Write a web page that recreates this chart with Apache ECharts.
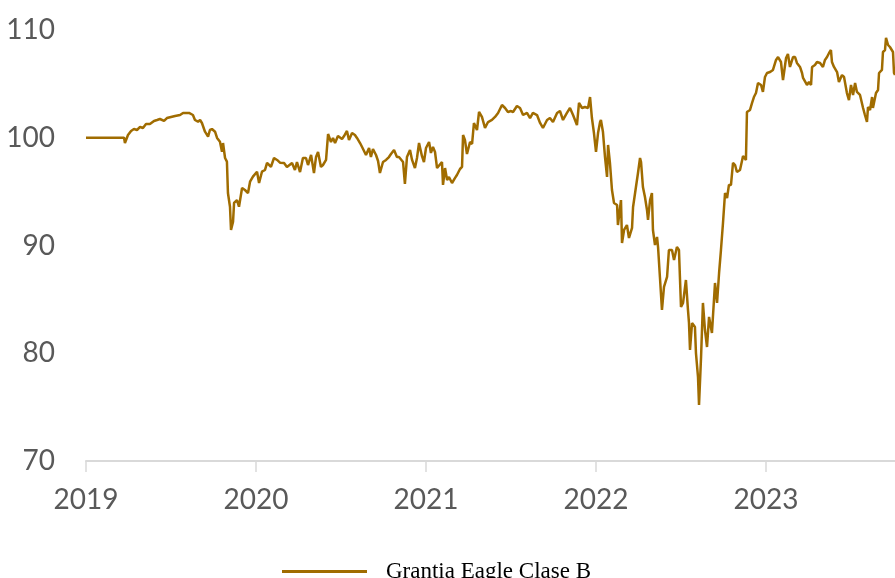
<!DOCTYPE html>
<html>
<head>
<meta charset="utf-8">
<script src="https://cdn.jsdelivr.net/npm/echarts@6/dist/echarts.min.js"></script>
<style>
html,body{margin:0;padding:0;background:#fff;}
#chart{width:895px;height:578px;}
</style>
</head>
<body>
<div id="chart"></div>
<script>
const seriesName = 'Grantia Eagle Clase B';
const yearTicks = [2019, 2020, 2021, 2022, 2023];
const valueTicks = [70, 80, 90, 100, 110];

// decimal-year dates
const dates = [
2019.000,2019.224,2019.229,2019.247,2019.265,2019.282,2019.300,2019.318,2019.335,2019.353,
2019.376,2019.400,2019.418,2019.435,2019.459,2019.476,2019.500,2019.524,2019.553,2019.571,
2019.582,2019.606,2019.629,2019.641,2019.659,2019.671,2019.682,2019.700,2019.718,2019.729,
2019.741,2019.759,2019.771,2019.788,2019.800,2019.806,2019.818,2019.829,2019.835,2019.847,
2019.853,2019.865,2019.871,2019.888,2019.900,2019.918,2019.935,2019.953,2019.965,2019.982,
2020.006,2020.018,2020.035,2020.053,2020.065,2020.088,2020.106,2020.124,2020.141,2020.165,
2020.182,2020.212,2020.229,2020.241,2020.259,2020.276,2020.294,2020.306,2020.324,2020.341,
2020.353,2020.365,2020.382,2020.394,2020.412,2020.424,2020.441,2020.453,2020.465,2020.482,
2020.506,2020.518,2020.535,2020.547,2020.565,2020.582,2020.594,2020.612,2020.624,2020.635,
2020.647,2020.665,2020.676,2020.688,2020.706,2020.718,2020.729,2020.747,2020.765,2020.782,
2020.794,2020.812,2020.829,2020.841,2020.865,2020.876,2020.888,2020.906,2020.918,2020.935,
2020.947,2020.959,2020.976,2020.988,2021.000,2021.018,2021.029,2021.041,2021.053,2021.065,
2021.076,2021.094,2021.100,2021.112,2021.124,2021.135,2021.153,2021.171,2021.182,2021.200,
2021.212,2021.218,2021.229,2021.241,2021.259,2021.271,2021.282,2021.300,2021.312,2021.329,
2021.347,2021.365,2021.388,2021.406,2021.424,2021.447,2021.465,2021.482,2021.500,2021.512,
2021.535,2021.553,2021.571,2021.594,2021.612,2021.629,2021.653,2021.671,2021.688,2021.712,
2021.729,2021.747,2021.771,2021.788,2021.806,2021.829,2021.847,2021.865,2021.888,2021.900,
2021.918,2021.935,2021.953,2021.965,2021.976,2021.988,2022.000,2022.012,2022.024,2022.029,
2022.041,2022.053,2022.065,2022.071,2022.082,2022.094,2022.106,2022.124,2022.129,2022.147,
2022.153,2022.165,2022.182,2022.194,2022.212,2022.218,2022.235,2022.247,2022.259,2022.265,
2022.276,2022.288,2022.300,2022.306,2022.318,2022.329,2022.335,2022.347,2022.359,2022.365,
2022.376,2022.388,2022.400,2022.418,2022.429,2022.447,2022.459,2022.476,2022.488,2022.500,
2022.512,2022.529,2022.541,2022.547,2022.553,2022.565,2022.582,2022.588,2022.600,2022.606,
2022.618,2022.629,2022.641,2022.653,2022.665,2022.682,2022.700,2022.712,2022.724,2022.735,
2022.747,2022.759,2022.771,2022.782,2022.794,2022.806,2022.818,2022.829,2022.847,2022.865,
2022.882,2022.888,2022.906,2022.918,2022.929,2022.941,2022.953,2022.971,2022.982,2022.994,
2023.006,2023.024,2023.041,2023.059,2023.071,2023.088,2023.100,2023.118,2023.129,2023.141,
2023.159,2023.171,2023.182,2023.200,2023.212,2023.218,2023.241,2023.253,2023.265,2023.271,
2023.288,2023.300,2023.318,2023.335,2023.347,2023.359,2023.371,2023.382,2023.388,2023.400,
2023.418,2023.429,2023.447,2023.459,2023.476,2023.488,2023.500,2023.512,2023.524,2023.535,
2023.553,2023.571,2023.582,2023.594,2023.600,2023.612,2023.624,2023.629,2023.647,2023.659,
2023.665,2023.682,2023.688,2023.700,2023.706,2023.718,2023.729,2023.747,2023.753,2023.759
];

const values = [
100.00,100.00,99.51,100.26,100.63,100.81,100.72,101.00,100.91,101.28,
101.28,101.56,101.65,101.74,101.56,101.83,101.93,102.02,102.11,102.30,
102.39,102.30,102.11,101.65,101.49,101.65,101.37,100.56,100.10,100.72,
100.81,100.56,99.98,99.63,98.71,99.51,98.12,97.78,94.87,93.60,
91.44,92.21,93.95,94.22,93.60,95.34,95.15,94.87,95.92,96.39,
96.85,95.80,96.85,97.01,97.66,97.31,98.12,97.94,97.69,97.66,
97.29,97.66,97.01,97.75,96.82,98.12,98.12,97.47,98.40,96.73,
98.21,98.68,97.29,97.47,97.94,100.35,99.61,99.98,99.51,100.16,
99.88,100.16,100.63,99.79,100.44,100.26,99.98,99.51,99.14,99.05,
98.40,99.05,98.21,98.96,98.40,97.84,96.73,97.75,97.94,98.21,
98.49,98.86,98.21,98.21,97.75,95.71,98.21,98.86,97.94,97.19,
98.12,99.51,98.31,97.75,99.05,99.61,98.59,99.14,98.68,97.19,
97.19,97.75,95.62,97.19,96.08,96.36,95.80,96.27,96.54,97.10,
97.29,100.26,99.79,98.49,99.61,99.42,101.37,100.72,102.39,101.93,
100.91,101.46,101.65,101.93,102.30,103.04,102.76,102.39,102.48,102.39,
102.95,102.76,102.11,102.30,101.83,102.30,102.11,101.37,100.91,101.65,
101.83,101.46,102.30,102.48,101.65,102.30,102.76,102.11,101.18,103.23,
102.76,102.85,102.76,103.78,101.83,100.44,98.68,100.44,101.46,101.65,
100.53,98.21,96.36,99.33,97.66,95.15,93.95,93.76,91.90,94.22,
90.23,91.44,91.90,90.70,91.63,93.57,95.43,96.73,98.12,97.75,
95.43,94.50,93.30,92.37,94.22,94.87,91.44,90.05,90.79,89.86,
87.08,84.02,86.15,87.08,89.58,89.58,88.66,89.86,89.58,84.29,
84.67,86.80,84.02,82.81,80.30,82.81,82.44,80.02,77.80,75.20,
79.65,84.67,82.16,80.58,83.37,81.88,86.52,84.67,87.45,89.58,
92.09,94.87,94.41,95.62,95.62,97.66,97.47,96.82,97.01,98.31,
97.94,102.39,102.58,103.23,103.78,104.15,105.08,104.90,104.25,105.64,
106.01,106.10,106.29,107.22,107.49,107.03,105.36,107.40,107.77,106.57,
107.49,107.49,106.94,106.57,106.01,105.55,104.90,105.17,104.90,106.57,
106.75,107.03,106.94,106.57,107.22,107.49,107.87,108.14,107.03,106.57,
106.10,105.17,105.82,105.64,104.15,103.50,104.90,103.97,105.08,104.25,
103.97,102.76,102.11,101.46,102.85,102.58,103.78,102.76,104.15,104.43,
106.01,106.29,107.96,108.14,109.26,108.61,108.42,107.96,106.01,105.82
];

const lineColor = '#A06C00';
const labelFont = 'Lato, "Open Sans", sans-serif';

const chart = echarts.init(document.getElementById('chart'), null, {renderer: 'canvas'});
chart.setOption({
  animation: false,
  backgroundColor: '#ffffff',
  grid: {left: 86, right: -41, top: 30, bottom: 117, containLabel: false, outerBoundsMode: 'none'},
  xAxis: {
    type: 'value',
    min: yearTicks[0],
    max: yearTicks[yearTicks.length - 1] + 1,
    interval: 1,
    axisLine: {show: true, lineStyle: {color: '#D9D9D9', width: 2}},
    axisTick: {show: true, length: 11, lineStyle: {color: '#D9D9D9', width: 1.5}},
    splitLine: {show: false},
    axisLabel: {
      color: '#595959', fontSize: 28, fontFamily: labelFont, margin: 25,
      formatter: v => String(v)
    }
  },
  yAxis: {
    type: 'value',
    min: valueTicks[0],
    max: valueTicks[valueTicks.length - 1],
    interval: 10,
    axisLine: {show: false},
    axisTick: {show: false},
    splitLine: {show: false},
    axisLabel: {color: '#595959', fontSize: 28, fontFamily: labelFont, margin: 31}
  },
  legend: {
    data: [seriesName],
    left: 282,
    top: 560,
    padding: 0,
    icon: 'rect',
    itemWidth: 85,
    itemHeight: 3,
    textStyle: {fontFamily: '"Liberation Serif", "DejaVu Serif", serif', fontSize: 23, color: '#000', padding: [0, 0, 0, 14]}
  },
  series: [{
    name: seriesName,
    type: 'line',
    data: dates.map((d, i) => [d, values[i]]),
    showSymbol: false,
    symbol: 'none',
    lineStyle: {color: lineColor, width: 2.5},
    itemStyle: {color: lineColor},
    clip: true
  }]
});
</script>
</body>
</html>
